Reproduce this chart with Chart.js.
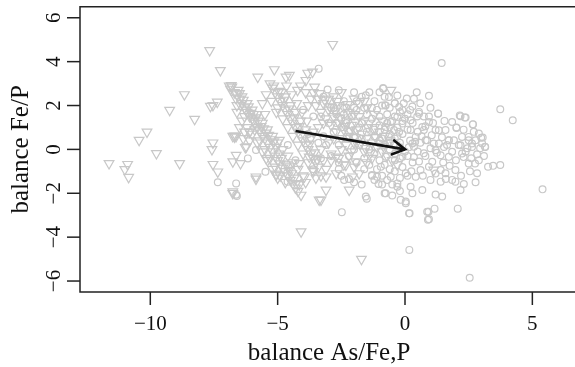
<!DOCTYPE html>
<html>
<head>
<meta charset="utf-8">
<script src="https://cdn.jsdelivr.net/npm/chart.js@4"></script>
<style>
  html, body { margin: 0; padding: 0; background: #fff; overflow: hidden; }
  #caixa { width: 575px; height: 367px; overflow: hidden; }
  canvas { display: block; }
</style>
</head>
<body>
<div id="caixa"><canvas id="grafico" width="585" height="367"></canvas></div>
<script>
// Valores (x = balance As/Fe,P ; y = balance Fe/P)
const triangulos = [
  [-11.62,-0.64],[-10.89,-0.68],[-11.0,-0.91],[-10.85,-1.27],[-9.76,-0.18],[-10.44,0.42],[-10.13,0.8],
  [-8.85,-0.64],[-8.66,2.5],[-9.24,1.79],[-8.26,1.38],[-7.54,2.01],[-7.37,2.16],[-7.25,3.6],[-7.67,4.51],
  [-7.64,1.97],[-7.54,0.3],[-7.58,0],[-7.54,-0.68],[-7.35,-1.02],[-6.63,0.6],[-6.63,-0.26],[-6.76,-0.56],
  [-6.46,-0.64],[-6.76,-1.93],[-5.85,-1.25],[-6.27,0.09],[-6.1,0.8],[-6.76,0.6],[-6.7,0.62],[-5.78,3.3],
  [-5.13,3.64],[-4.67,3.3],[-4.54,3.38],[-3.82,3.48],[-3.89,3.15],[-3.63,3.53],[-4.22,2.7],[-2.84,4.79],
  [-4.08,-3.75],[-1.71,-5.0],[-6.76,-2.0],[-5.85,-1.35],[-5.06,-1.12],[-4.28,-1.55],[-4.08,-2.08],
  [-3.3,-2.3],[-3.1,-1.85],[-2.19,-1.85],[-5.06,-1.17],[-3.37,-2.3],[-6.82,2.92],
  [-4.54,-0.79],[-4.15,-0.64],[-5.45,-0.41],[-6.23,0.12],[-6.35,0.5],[-6.69,0.57],[-6.1,0.8],
  [-4.93,0.42],[-3.76,-0.34],[-3.63,-0.94],[-3.95,-1.25],[-3.1,-1.25],[-2.71,-0.34],[-2.9,-0.2],
  [-2.32,-0.71],[-1.93,-0.56],[-2.06,-1.25],
  [-6.9,2.9],[-6.8,2.85],[-6.7,2.6],[-6.6,2.5],[-6.5,2.3],[-6.45,2.0],[-6.3,1.9],[-6.2,1.7],[-6.1,1.5],
  [-6.0,1.4],[-5.9,1.2],[-5.8,1.0],[-5.7,0.85],[-5.6,0.6],[-5.5,0.5],[-5.4,0.3],[-5.3,0.1],[-5.2,-0.1],
  [-5.1,-0.3],[-5.0,-0.5],[-4.9,-0.65],[-4.8,-0.85],[-4.7,-1.0],[-4.6,-1.2],[-4.5,-1.4],[-4.4,-1.55],
  [-4.3,-1.75],[-4.2,-1.9],[-6.4,2.4],[-6.2,2.1],[-6.0,1.8],[-5.8,1.6],[-5.6,1.2],[-5.4,0.9],[-5.2,0.6],
  [-5.0,0.3],[-4.8,0.0],[-4.6,-0.3],[-4.4,-0.6],[-4.2,-0.9],[-4.0,-1.2],[-3.9,-1.5],[-6.6,2.0],
  [-6.3,1.5],[-5.9,0.9],[-5.7,0.4],[-5.5,0.0],[-5.3,-0.4],[-5.1,-0.8],[-4.9,-1.2],[-4.7,-1.5],
  [-6.55,2.7],[-6.35,2.25],[-6.15,1.95],[-5.95,1.6],[-5.75,1.3],[-5.55,0.95],[-5.35,0.65],[-5.15,0.35],
  [-6.85,2.75],[-6.65,2.35],[-6.5,2.55],[-6.4,2.1],[-6.25,1.8],[-6.05,1.65],[-5.95,1.35],[-5.85,1.45],
  [-5.65,1.05],[-5.45,0.75],[-5.25,0.45],[-5.05,0.1],[-4.95,-0.2],[-4.85,-0.4],[-4.65,-0.7],[-4.55,-0.95],
  [-4.45,-1.1],[-4.35,-1.3],[-4.15,-1.6],[-6.6,1.7],[-6.4,1.3],[-6.2,1.0],[-6.0,0.7],[-5.8,0.3],
  [-5.6,-0.1],[-5.4,-0.5],[-5.2,-0.9],[-5.0,-1.3],[-6.5,1.0],[-6.3,0.8],[-6.1,0.4],
  [-5.3,3.0],[-5.2,2.8],[-5.1,2.6],[-5.0,2.4],[-4.9,2.2],[-4.8,2.0],[-4.7,1.8],[-4.6,1.6],[-4.5,1.4],
  [-4.4,1.2],[-4.3,1.0],[-4.2,0.8],[-4.1,0.6],[-4.0,0.4],[-3.9,0.2],[-3.8,0.0],[-3.7,-0.2],[-3.6,-0.4],
  [-3.5,-0.6],[-3.4,-0.8],[-4.7,2.4],[-4.5,2.0],[-4.3,1.7],[-4.1,1.3],[-3.9,0.9],[-3.7,0.5],[-5.0,1.9],
  [-4.8,1.4],[-4.6,1.0],[-4.4,0.6],[-4.2,0.2],[-4.0,-0.2],[-3.8,-0.6],[-3.6,-1.0],[-3.5,-1.3],
  [-5.45,2.5],[-5.25,2.2],[-5.05,1.7],[-4.85,2.6],[-5.6,2.1],[-5.5,1.6],
  [-5.15,2.9],[-4.95,2.65],[-4.75,2.25],[-4.55,1.85],[-4.35,1.45],[-4.15,1.05],[-3.95,0.65],[-3.75,0.25],
  [-3.55,-0.15],[-3.45,-0.45],[-4.65,2.9],[-4.45,2.5],[-4.25,2.1],[-4.05,1.7],[-3.85,1.3],
  [-4.1,2.9],[-3.9,2.6],[-3.7,2.3],[-3.5,2.0],[-3.3,1.7],[-3.1,1.4],[-2.9,1.1],[-2.7,0.8],[-2.5,0.5],
  [-2.3,0.2],[-2.1,-0.1],[-3.6,2.6],[-3.4,2.3],[-3.2,2.1],[-3.0,1.8],[-2.8,1.5],[-2.6,1.2],[-2.4,0.9],
  [-2.2,0.6],[-2.0,0.3],[-3.8,2.0],[-3.2,1.2],[-2.8,0.5],[-2.5,0.0],[-2.9,-0.5],[-3.1,-0.9],[-2.7,-1.1],
  [-3.3,-1.2],[-3.4,1.0],[-3.6,0.8],[-3.0,0.3],
  [-3.55,2.85],[-3.35,2.55],[-3.15,2.25],[-2.95,1.95],[-2.75,1.75],[-2.55,1.45],[-2.35,1.05],[-2.15,0.85],
  [-1.95,0.55],[-1.75,0.25],[-1.55,0.05],[-1.35,-0.15],[-2.65,2.2],[-2.25,2.05],[-1.95,1.25],[-1.45,1.0],
  [-1.15,0.55],[-0.85,0.15],[-3.3,0.0],[-3.2,-0.5],[-2.6,-0.4],
  [-2.6,2.0],[-2.4,1.9],[-2.2,1.7],[-2.0,1.6],[-1.8,1.5],[-1.6,1.3],[-1.4,1.2],[-1.2,1.0],[-1.0,0.8],
  [-0.8,0.6],[-0.6,0.4],[-0.4,0.2],[-2.3,1.3],[-2.1,1.1],[-1.9,0.9],[-1.7,0.7],[-1.5,0.5],[-1.3,0.3],
  [-1.1,0.1],[-0.9,-0.1],[-0.7,-0.3],[-1.8,2.1],[-1.5,1.9],[-1.2,1.6],[-0.9,1.3],[-0.6,1.0],[-2.0,2.3],
  [-1.6,2.2],[-2.8,2.4],[-2.5,2.6],[-3.0,2.3],[-1.9,0.3],[-1.6,-0.1],[-1.3,-0.4],[-2.2,-0.3],[-2.4,-0.7],
  [-2.0,-0.8],[-1.8,-1.1],[-1.5,-0.6],[-0.5,-0.5],[-0.3,-0.7],[-0.55,2.7],[1.13,-0.94]
];

const circulos = [
  [-7.35,-1.5],[-6.6,-2.12],[-6.63,-2.07],[-6.63,-1.55],[-6.17,-0.41],[-5.85,-0.03],[-5.48,-1.02],
  [-4.61,-1.47],[-2.48,-2.86],[-3.39,3.68],[-3.04,2.73],[-2.39,-1.4],[-2.2,-1.35],[-1.54,-2.15],
  [-1.5,-2.25],[-1.54,2.47],[-0.85,2.77],[-0.76,-2.0],[-1.3,-1.17],[-1.2,-1.4],[-2.5,-1.2],
  [-3.3,-0.4],[-2.6,-0.6],[0.17,-4.58],[0.16,-2.91],[0.03,-2.38],[0.87,-2.84],[0.9,-3.21],[2.54,-5.85],
  [-2.9,1.9],[-2.7,1.6],[-2.5,1.4],[-2.3,1.9],[-2.1,1.5],[-1.9,1.8],[-1.7,1.2],[-1.5,1.6],[-1.3,1.4],
  [-1.1,1.8],[-0.9,2.0],[-0.7,1.6],[-0.5,1.3],[-0.3,1.0],[-0.1,0.7],[-1.0,1.1],[-0.8,0.9],[-0.6,0.7],
  [-0.4,0.5],[-0.2,0.3],[-1.2,0.6],[-1.0,0.4],[-0.8,0.2],[-0.6,0.0],[-0.4,-0.2],[-0.2,-0.4],[-1.4,0.0],
  [-1.2,-0.2],[-1.0,-0.5],[-0.8,-0.7],[-0.6,-0.9],[-1.8,0.2],[-2.0,0.0],[-1.6,-0.4],[-1.4,-0.7],
  [-2.6,0.2],[-2.8,0.8],[-3.0,1.2],[-3.2,0.6],[-3.4,0.3],[-2.2,0.8],[-1.8,1.0],[-2.4,2.2],[-1.7,2.4],
  [-1.2,2.2],[-0.8,2.4],[-0.4,2.1],[-0.2,1.7],[0.0,1.4],[-0.6,1.9],[-1.4,2.6],[-2.0,2.6],[-2.6,2.7],
  [-3.2,2.4],[-3.6,1.5],[-4.0,1.8],[-1.1,-0.9],[-0.9,-1.2],[-0.7,-1.4],[-0.4,-1.0],[-0.2,-1.3],
  [-0.3,-1.7],[-0.5,-1.6],[-2.0,-1.5],[-1.7,-1.6],[-3.6,-0.9],[-4.3,-0.5],[-3.8,0.7],[-4.6,0.2],
  [-0.2,0.1],[-0.4,-0.5],[-0.1,-0.8],[0.1,-0.3],[0.2,0.4],[0.1,0.9],[-0.3,0.6],[-0.6,0.3],[-0.9,0.5],
  [-1.2,0.9],[-1.5,0.8],[-1.7,0.5],[-2.0,0.6],[-2.3,0.5],[-2.5,1.0],[-2.7,1.2],[-2.4,1.6],[-2.0,1.9],
  [-1.6,1.9],[-1.3,1.9],[-1.0,1.5],[-0.7,1.2],[-0.4,1.5],[-0.1,1.3],[0.3,1.2],[0.5,0.8],[0.6,0.3],
  [0.5,-0.1],[0.3,-0.6],[0.1,-1.2],[-0.2,-1.9],[-0.5,-2.1],[-0.9,-1.6],[-1.3,-1.2],[-1.6,-0.9],
  [-1.9,-0.6],[-2.2,-0.3],[-2.6,-0.9],[-2.9,-0.3],[-3.1,0.2],
  [-2.3,1.2],[-2.8,1.9],[-3.3,1.5],[-1.9,2.2],[-1.0,2.6],
  [1.44,3.94],[-0.86,2.8],[0.46,2.6],[0.94,2.44],[3.74,1.83],[4.23,1.33],[5.4,-1.82],
  [0.94,-3.18],[0.92,-2.84],[1.16,-2.7],[2.07,-2.7],[1.2,-2.06],[0.18,-2.91],[-0.8,-2.0],[-1.04,-1.58],
  [2.77,-1.5],[2.31,-1.58],[3.26,-0.79],[3.46,-0.75],[3.74,-0.71],[3.14,0.12],[2.99,0.53],[2.66,1.14],
  [2.18,1.51],[2.38,1.45],[2.02,1.0],[1.3,1.64],[0.94,1.5],[0.07,2.32],[0.55,1.71],[0.74,1.5],
  [-0.3,1.48],[-0.78,2.01],[0.35,0.12],[0.61,-0.94],[-0.1,-0.34],[-0.95,-0.79],[-1.1,-1.25],
  [-0.3,-1.55],[0.22,-1.7],[0.42,-1.25],[1.0,-1.39],[1.4,-1.47],[1.85,-1.39],[1.59,-1.09],[1.98,-0.94],
  [2.5,-0.64],[2.83,-1.09],[2.75,-0.64],[2.38,-0.11],[2.11,0.2],[1.72,0.42],[1.33,0.27],[1.2,0.88],
  [1.59,0.88],[2.63,0.27],[2.77,0.42],[3.03,0.27],[2.5,0.57],[2.24,0.57],[1.92,0.42],[1.72,-0.34],
  [1.4,-0.27],[1.07,-0.56],[0.94,-0.79],[1.4,-0.94],[0.74,-0.18],[0.87,0.42],[1.13,0.27],[0.74,0.88],
  [0.42,0.57],[0.22,0.88],[-0.1,1.18],[-0.43,0.88],[-0.63,0.57],[-1.0,0.27],[-0.75,-0.34],[-0.56,-1.25],
  [0.03,-1.09],[-0.17,-2.3],[0.03,-2.45],[0.29,-2.0],[0.68,-1.85],[2.18,-1.85],[1.46,-2.15],[1.98,-1.47],
  [-0.1,1.79],[0.29,1.95],[0.1,1.6],[0.48,1.5],[-0.63,2.39],[-0.4,2.1],
  [-0.3,2.46],[0.35,2.31],[-0.76,2.0],[-0.23,1.93],[0.55,1.63],[1.3,1.63],[2.15,1.55],[2.35,1.45],
  [2.67,1.15],[2.02,0.98],[2.9,0.72],[3.05,0.54],[3.15,0.11],[2.83,-0.22],[2.24,-0.19],[1.72,0.42],
  [1.33,0.87],[0.94,1.25],[0.68,1.02],[0.22,1.33],[-0.23,0.8],[-0.76,1.02],[-0.56,1.25],[0.29,0.27],
  [0.81,0.42],[1.2,-0.04],[1.53,0.11],[1.85,-0.11],[2.18,0.19],[2.5,0.42],[2.63,0.11],
  [0.35,-0.35],[0.55,-0.55],[0.8,-0.3],[1.0,0.05],[1.25,-0.15],[1.5,-0.6],[1.75,-0.75],[2.0,-0.5],
  [2.3,-0.35],[2.6,-0.4],[2.9,-0.5],[3.1,-0.3],[2.95,0.05],[2.45,0.05],[1.65,0.2],[1.45,0.55],
  [1.05,0.65],[0.65,0.6],[0.4,0.35],[0.15,0.1],[0.0,-0.1],[0.25,-1.0],[0.7,-1.2],[1.2,-1.1],
  [1.6,-1.35],[2.2,-1.2],[2.55,-1.0],[0.8,1.05],[1.1,1.2],[1.55,1.3],[1.85,1.25],[2.3,0.9],[2.7,0.8],
  [0.2,1.8],[0.6,2.1],[1.0,1.9],[-0.05,2.1]
];

// segmento da seta: origem e ponta
const setaX = [-4.3, 0];
const setaY = [0.84, 0];

const ticksX = [-10, -5, 0, 5];
const ticksY = [-6, -4, -2, 0, 2, 4, 6];

const cinza = '#c8c8c8';

function rotulo(v) {
  return v < 0 ? '\u2212' + Math.abs(v) : String(v);
}

// Eixos no estilo do R (caixa, marcas para fora, textos serif)
const eixosR = {
  id: 'eixosR',
  afterDatasetsDraw(chart) {
    // ponta da seta
    const ctx = chart.ctx;
    const meta = chart.getDatasetMeta(0).data;
    const p0 = meta[0], p1 = meta[1];
    const ang = Math.atan2(p1.y - p0.y, p1.x - p0.x);
    const comp = 14, abre = Math.PI / 6;
    ctx.save();
    ctx.strokeStyle = '#111';
    ctx.lineWidth = 2.6;
    ctx.lineCap = 'round';
    ctx.beginPath();
    ctx.moveTo(p1.x - comp * Math.cos(ang - abre), p1.y - comp * Math.sin(ang - abre));
    ctx.lineTo(p1.x, p1.y);
    ctx.lineTo(p1.x - comp * Math.cos(ang + abre), p1.y - comp * Math.sin(ang + abre));
    ctx.stroke();
    ctx.restore();
  },
  afterDraw(chart) {
    const { ctx, chartArea: a, scales: { x, y } } = chart;
    ctx.save();
    ctx.strokeStyle = '#222';
    ctx.lineWidth = 1.5;
    ctx.beginPath();
    ctx.moveTo(a.right, a.top);
    ctx.lineTo(a.left, a.top);
    ctx.lineTo(a.left, a.bottom);
    ctx.lineTo(a.right, a.bottom);
    ctx.stroke();

    ctx.fillStyle = '#111';
    ctx.font = '21px "Liberation Serif"';
    ctx.textAlign = 'center';
    ctx.textBaseline = 'alphabetic';
    ticksX.forEach(v => {
      const px = x.getPixelForValue(v);
      ctx.beginPath();
      ctx.moveTo(px, a.bottom);
      ctx.lineTo(px, a.bottom + 13);
      ctx.stroke();
      ctx.fillText(rotulo(v), px, a.bottom + 38);
    });
    ticksY.forEach(v => {
      const py = y.getPixelForValue(v);
      ctx.beginPath();
      ctx.moveTo(a.left - 13, py);
      ctx.lineTo(a.left, py);
      ctx.stroke();
      ctx.save();
      ctx.translate(a.left - 20, py);
      ctx.rotate(-Math.PI / 2);
      ctx.fillText(rotulo(v), 0, 0);
      ctx.restore();
    });

    ctx.font = '25px "Liberation Serif"';
    ctx.fillText('balance As/Fe,P', (a.left + a.right) / 2, 360);
    ctx.save();
    ctx.translate(28, (a.top + a.bottom) / 2);
    ctx.rotate(-Math.PI / 2);
    ctx.fillText('balance Fe/P', 0, 0);
    ctx.restore();
    ctx.restore();
  }
};

new Chart(document.getElementById('grafico'), {
  type: 'scatter',
  data: {
    datasets: [
      {
        type: 'line',
        data: setaX.map((v, i) => ({ x: v, y: setaY[i] })),
        borderColor: '#111',
        borderWidth: 2.6,
        pointRadius: 0,
        fill: false
      },
      {
        data: circulos.map(p => ({ x: p[0], y: p[1] })),
        pointStyle: 'circle',
        pointRadius: 3.4,
        borderColor: cinza,
        backgroundColor: 'rgba(0,0,0,0)',
        borderWidth: 1.2
      },
      {
        data: triangulos.map(p => ({ x: p[0], y: p[1] })),
        pointStyle: 'triangle',
        rotation: 180,
        pointRadius: 5.6,
        borderColor: cinza,
        backgroundColor: 'rgba(0,0,0,0)',
        borderWidth: 1.2
      }
    ]
  },
  options: {
    responsive: false,
    animation: false,
    devicePixelRatio: 1,
    layout: { padding: { left: 80, top: 6, right: 5, bottom: 75 } },
    plugins: { legend: { display: false }, tooltip: { enabled: false } },
    scales: {
      x: { type: 'linear', min: -12.76, max: 6.8, display: false },
      y: { type: 'linear', min: -6.5, max: 6.5, display: false }
    }
  },
  plugins: [eixosR]
});
</script>
</body>
</html>
